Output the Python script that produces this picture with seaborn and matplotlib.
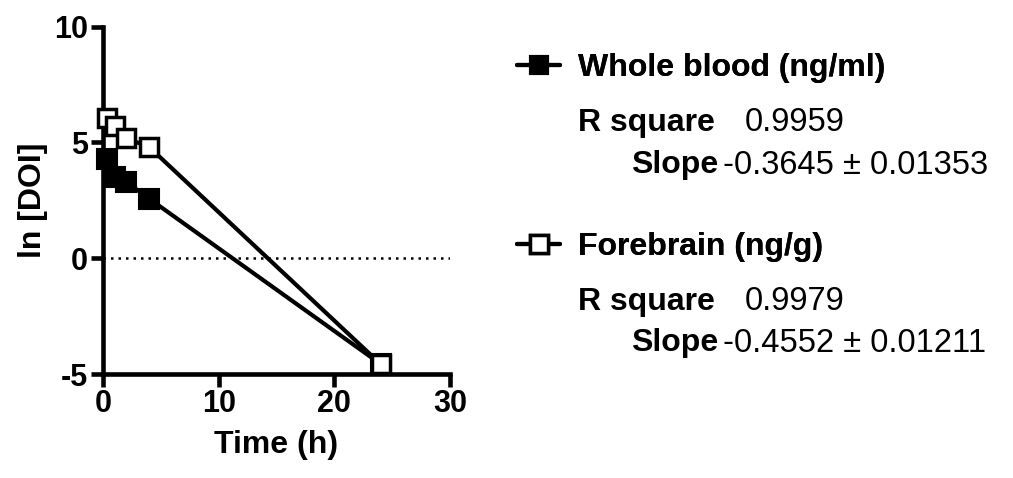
import matplotlib
matplotlib.use("Agg")
import matplotlib.pyplot as plt
import seaborn as sns
import pandas as pd

# ---- data ----
time_h = [0.33, 1, 2, 4, 24]
whole_blood = [4.29, 3.51, 3.30, 2.57, -4.57]
forebrain = [6.04, 5.70, 5.19, 4.80, -4.57]
series_names = ["Whole blood (ng/ml)", "Forebrain (ng/g)"]
r_square = ["0.9959", "0.9979"]
slopes = ["-0.3645 \u00b1 0.01353", "-0.4552 \u00b1 0.01211"]
x_ticks = [0, 10, 20, 30]
y_ticks = [-5, 0, 5, 10]

sns.set_theme(style="ticks")
plt.rcParams["font.family"] = ["Liberation Sans", "DejaVu Sans"]
plt.rcParams["text.color"] = "black"
plt.rcParams["axes.labelcolor"] = "black"
plt.rcParams["axes.unicode_minus"] = False

W, H = 1013, 478
fig = plt.figure(figsize=(W / 100, H / 100), dpi=100)
ax = fig.add_axes([103 / W, 1 - 374 / H, (450 - 103) / W, (374 - 26.7) / H])

df_wb = pd.DataFrame({"t": time_h, "v": whole_blood})
df_fb = pd.DataFrame({"t": time_h, "v": forebrain})

ax.axhline(0, ls=(0, (1, 2.0)), color="black", lw=1.8, zorder=1)

sns.lineplot(data=df_wb, x="t", y="v", ax=ax, color="black", lw=3.0,
             marker="s", markersize=14, markerfacecolor="black",
             markeredgecolor="black", markeredgewidth=1.5,
             clip_on=False, zorder=4, label=series_names[0], legend=False)
sns.lineplot(data=df_fb, x="t", y="v", ax=ax, color="black", lw=3.0,
             marker="s", markersize=13.5, markerfacecolor="white",
             markeredgecolor="black", markeredgewidth=2.5,
             clip_on=False, zorder=5, label=series_names[1], legend=False)

ax.set_xlim(0, 30)
ax.set_ylim(-5, 10)
ax.set_xticks(x_ticks)
ax.set_yticks(y_ticks)
for s in ["top", "right"]:
    ax.spines[s].set_visible(False)
for s in ["left", "bottom"]:
    ax.spines[s].set_linewidth(3.3)
    ax.spines[s].set_color("black")
ax.tick_params(axis="both", length=9, width=3.3, color="black",
               labelsize=22, pad=2, labelcolor="black")
for lab in ax.get_xticklabels() + ax.get_yticklabels():
    lab.set_fontweight("bold")
ax.set_xlabel("Time (h)", fontsize=23, fontweight="bold", labelpad=8)
ax.set_ylabel("ln [DOI]", fontsize=23, fontweight="bold", labelpad=4)

# legend for the two series
handles = ax.get_lines()[1:3]
for i, (h, name) in enumerate(zip(handles, series_names)):
    y_px = [68, 247][i]
    leg = fig.legend([h], [name], loc="center left",
                     bbox_to_anchor=(517 / W, 1 - y_px / H),
                     frameon=False, handlelength=1.35, handletextpad=0.55,
                     markerscale=0.95, borderaxespad=0, borderpad=0,
                     prop={"size": 23, "weight": "bold"})
    fig.add_artist(leg)

# statistics text
for i in range(2):
    y_r = [123, 302][i]
    y_s = [165, 343][i]
    fig.text(578 / W, 1 - y_r / H, "R square", ha="left", va="center",
             fontsize=23, fontweight="bold")
    fig.text(745 / W, 1 - y_r / H, r_square[i], ha="left", va="center",
             fontsize=23.5)
    fig.text(718 / W, 1 - y_s / H, "Slope", ha="right", va="center",
             fontsize=23, fontweight="bold")
    fig.text(723 / W, 1 - y_s / H, slopes[i], ha="left", va="center",
             fontsize=23.5)

fig.savefig("out.png", dpi=100, facecolor="white")
